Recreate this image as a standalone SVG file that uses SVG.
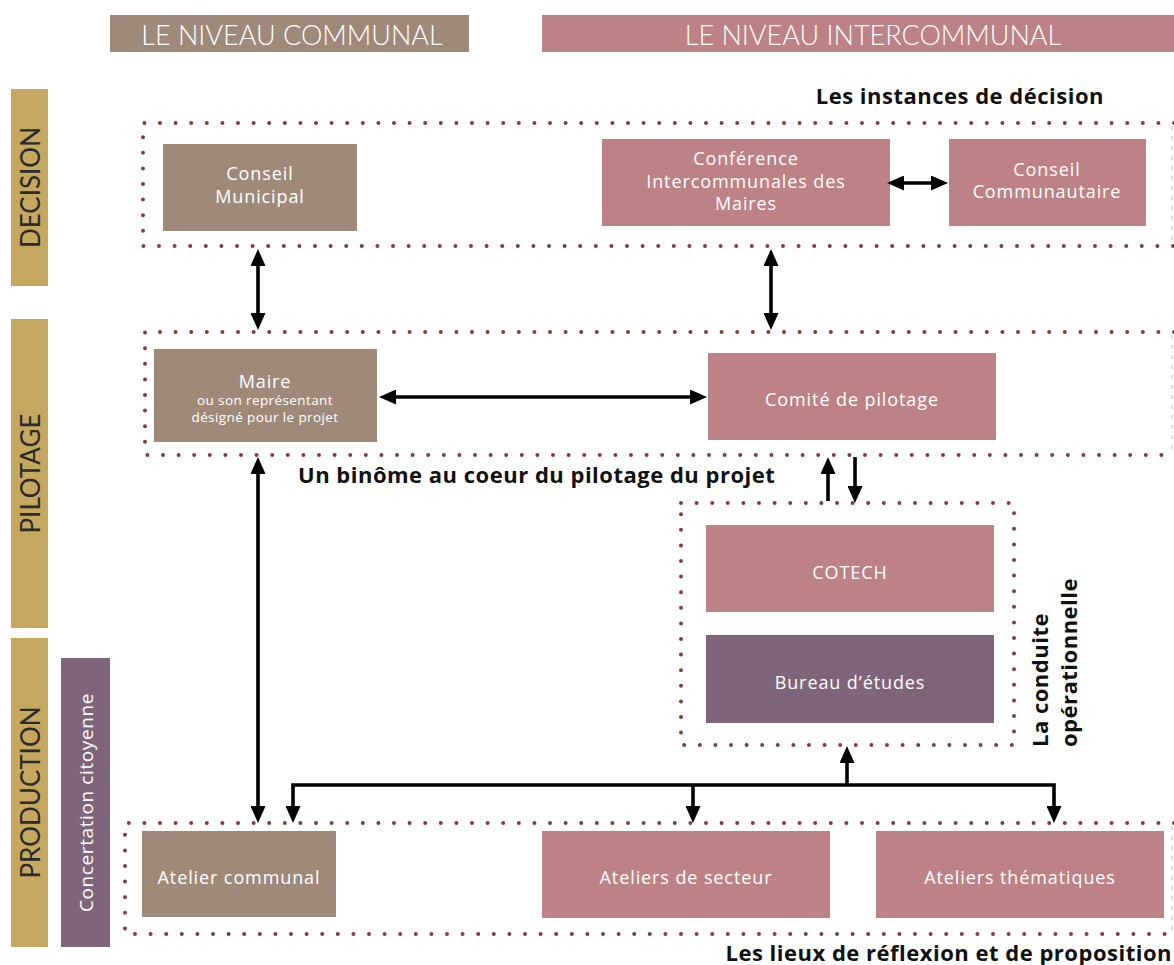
<svg xmlns="http://www.w3.org/2000/svg" width="1174" height="965" viewBox="0 0 1174 965">
<defs>
<style>
.hdr{font-family:"Lato","Open Sans",sans-serif;font-weight:300;font-size:27px;fill:#fff;text-anchor:middle;dominant-baseline:central}
.side{font-family:"Lato","Open Sans",sans-serif;font-size:26px;fill:#2b2b2b;text-anchor:middle;dominant-baseline:central}
.box{font-family:"Open Sans","Liberation Sans",sans-serif;font-size:18px;letter-spacing:0.9px;fill:#fff;text-anchor:middle;dominant-baseline:central}
.small{font-family:"Open Sans","Liberation Sans",sans-serif;font-size:13.5px;letter-spacing:0.4px;fill:#fff;text-anchor:middle;dominant-baseline:central}
.lbl{font-family:"Open Sans","Lato",sans-serif;font-weight:bold;font-size:22px;letter-spacing:0.5px;fill:#111}
.dots{fill:none;stroke:#8a3a3c;stroke-width:4;stroke-linecap:round;stroke-dasharray:0 15.6}
.faint{fill:none;stroke:#ddd6d6;stroke-width:1.5;stroke-dasharray:4 6}
.arr{fill:none;stroke:#000;stroke-width:3.6}
.com{fill:#9f8a7a}
.inter{fill:#bd8285}
.gold{fill:#c6a760}
.purple{fill:#7e6579}
</style>
<marker id="ah" viewBox="0 0 17 15" refX="4" refY="7.5" markerWidth="17" markerHeight="15" markerUnits="userSpaceOnUse" orient="auto-start-reverse">
<path d="M0,0 L17,7.5 L0,15 Z" fill="#000"/>
</marker>
</defs>

<g id="headers">
<rect class="com" x="110" y="15" width="359" height="37"/>
<text class="hdr" x="292" y="34">LE NIVEAU COMMUNAL</text>
<rect class="inter" x="542" y="15" width="632" height="37"/>
<text class="hdr" x="873" y="34">LE NIVEAU INTERCOMMUNAL</text>
</g>

<g id="side-bars">
<rect class="gold" x="11" y="89" width="37" height="197"/>
<text class="side" transform="translate(30,187.5) rotate(-90)">DECISION</text>
<rect class="gold" x="11" y="319" width="37" height="309"/>
<text class="side" transform="translate(30,473.5) rotate(-90)">PILOTAGE</text>
<rect class="gold" x="11" y="638" width="37" height="309"/>
<text class="side" transform="translate(30,792.5) rotate(-90)">PRODUCTION</text>
<rect class="purple" x="61" y="658" width="49" height="289"/>
<text class="box" style="font-size:19px;letter-spacing:0.6px" transform="translate(86,802.5) rotate(-90)">Concertation citoyenne</text>
</g>

<g id="zones">
<path class="dots" d="M1174,123 H143 V246 H1174"/>
<path class="faint" d="M1172,126 V244"/>
<path class="dots" d="M1174,332 H145 V455 H1174"/>
<path class="faint" d="M1172,335 V453"/>
<path class="dots" d="M1174,823 H125 V934 H1174"/>
<path class="faint" d="M1172,826 V932"/>
<path class="dots" d="M681,503 H1014 V745 H681 Z"/>
<text class="lbl" x="1104" y="104" text-anchor="end">Les instances de décision</text>
<text class="lbl" x="298" y="483">Un binôme au coeur du pilotage du projet</text>
<text class="lbl" x="1172" y="961" text-anchor="end">Les lieux de réflexion et de proposition</text>
<text class="lbl" dominant-baseline="central" transform="translate(1039,747) rotate(-90)">La conduite</text>
<text class="lbl" dominant-baseline="central" transform="translate(1068,747) rotate(-90)">opérationnelle</text>
</g>

<g id="conseil-municipal">
<rect class="com" x="163" y="144" width="194" height="87"/>
<text class="box" x="260" y="173">Conseil</text>
<text class="box" x="260" y="196">Municipal</text>
</g>
<g id="conference">
<rect class="inter" x="602" y="139" width="288" height="87"/>
<text class="box" x="746" y="158">Conférence</text>
<text class="box" x="746" y="181">Intercommunales des</text>
<text class="box" x="746" y="203">Maires</text>
</g>
<g id="conseil-communautaire">
<rect class="inter" x="949" y="139" width="197" height="87"/>
<text class="box" x="1047" y="169">Conseil</text>
<text class="box" x="1047" y="191">Communautaire</text>
</g>
<g id="maire">
<rect class="com" x="154" y="349" width="223" height="93"/>
<text class="box" x="265" y="381">Maire</text>
<text class="small" x="265" y="400">ou son représentant</text>
<text class="small" x="265" y="417">désigné pour le projet</text>
</g>
<g id="comite">
<rect class="inter" x="708" y="353" width="288" height="87"/>
<text class="box" x="852" y="399">Comité de pilotage</text>
</g>
<g id="cotech">
<rect class="inter" x="706" y="525" width="288" height="87"/>
<text class="box" x="850" y="572">COTECH</text>
</g>
<g id="bureau">
<rect class="purple" x="706" y="635" width="288" height="88"/>
<text class="box" x="850" y="682">Bureau d’études</text>
</g>
<g id="atelier-communal">
<rect class="com" x="142" y="831" width="194" height="86"/>
<text class="box" x="239" y="877">Atelier communal</text>
</g>
<g id="ateliers-secteur">
<rect class="inter" x="542" y="831" width="288" height="87"/>
<text class="box" x="686" y="877">Ateliers de secteur</text>
</g>
<g id="ateliers-thematiques">
<rect class="inter" x="876" y="831" width="288" height="87"/>
<text class="box" x="1020" y="877">Ateliers thématiques</text>
</g>

<g id="connectors">
<path class="arr" d="M258,262 V317" marker-start="url(#ah)" marker-end="url(#ah)"/>
<path class="arr" d="M771,262 V317" marker-start="url(#ah)" marker-end="url(#ah)"/>
<path class="arr" d="M900,183 H935" marker-start="url(#ah)" marker-end="url(#ah)"/>
<path class="arr" d="M392,397 H694" marker-start="url(#ah)" marker-end="url(#ah)"/>
<path class="arr" d="M258,470 V810" marker-start="url(#ah)" marker-end="url(#ah)"/>
<path class="arr" d="M828,501 V470" marker-end="url(#ah)"/>
<path class="arr" d="M855,457 V490" marker-end="url(#ah)"/>
<path class="arr" d="M293,810 V785 H1054 V810" marker-start="url(#ah)" marker-end="url(#ah)"/>
<path class="arr" d="M693,785 V810" marker-end="url(#ah)"/>
<path class="arr" d="M847,785 V759" marker-end="url(#ah)"/>
</g>
</svg>
